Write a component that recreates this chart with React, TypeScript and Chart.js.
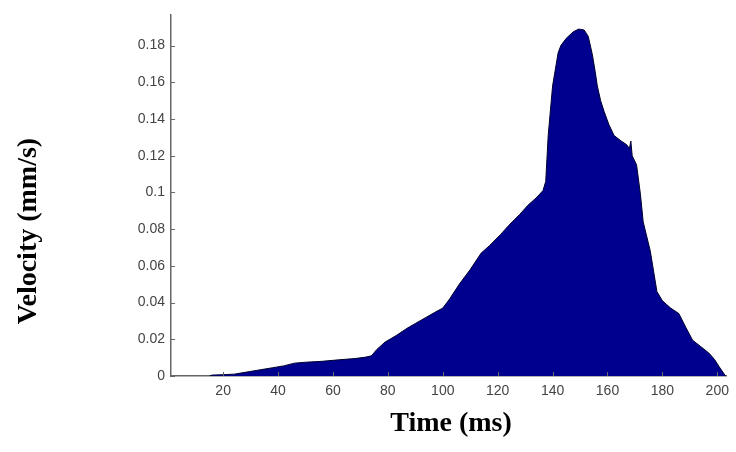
import React, { useEffect, useRef } from "react";
import { Chart, registerables } from "chart.js";

Chart.register(...registerables);

// Time (ms)
const timeMs: number[] = [
  15, 16, 20, 24, 28, 32, 38, 42, 46, 50, 56, 62, 68, 72, 74, 76, 79, 83, 87, 90,
  94, 97, 100, 102.5, 106, 110, 114, 117, 121, 124, 128, 131, 134, 136.5, 137.5,
  138.4, 140, 142, 143, 145, 147.5, 149.5, 151.5, 153, 154.5, 155.5, 156.3, 157.5,
  158.8, 160.5, 162.4, 165, 167, 168, 168.5, 169, 170.6, 172, 173, 175.6, 178,
  180, 183, 186, 188.5, 191, 194, 197, 199, 200.7, 203,
];

// Velocity (mm/s)
const velocity: number[] = [
  0, 0.0005, 0.0007, 0.001, 0.002, 0.003, 0.0045, 0.0055, 0.007, 0.0075, 0.008,
  0.0088, 0.0095, 0.0103, 0.011, 0.0145, 0.0185, 0.022, 0.026, 0.0286, 0.032,
  0.0346, 0.037, 0.042, 0.05, 0.058, 0.067, 0.071, 0.077, 0.082, 0.088, 0.093,
  0.097, 0.101, 0.106, 0.131, 0.158, 0.176, 0.18, 0.184, 0.1875, 0.189, 0.1885,
  0.185, 0.175, 0.166, 0.158, 0.15, 0.144, 0.137, 0.131, 0.128, 0.126, 0.124,
  0.128, 0.12, 0.115, 0.099, 0.084, 0.068, 0.046, 0.041, 0.037, 0.034, 0.0266,
  0.0195, 0.016, 0.0124, 0.009, 0.005, 0,
];

const xTicks: number[] = [20, 40, 60, 80, 100, 120, 140, 160, 180, 200];
const yTicks: number[] = [0, 0.02, 0.04, 0.06, 0.08, 0.1, 0.12, 0.14, 0.16, 0.18];

const xTitle = "Time (ms)";
const yTitle = "Velocity (mm/s)";

const titlesAndTicks = {
  id: "titlesAndTicks",
  afterDraw(chart: any) {
    const ctx = chart.ctx;
    const xs = chart.scales.x;
    const ys = chart.scales.y;
    ctx.save();
    ctx.strokeStyle = "#666";
    ctx.lineWidth = 1;
    ys.ticks.forEach((t: any) => {
      const y = Math.round(ys.getPixelForValue(t.value)) + 0.5;
      ctx.beginPath();
      ctx.moveTo(ys.right, y);
      ctx.lineTo(ys.right + 4, y);
      ctx.stroke();
    });
    xs.ticks.forEach((t: any) => {
      const x = Math.round(xs.getPixelForValue(t.value)) + 0.5;
      ctx.beginPath();
      ctx.moveTo(x, xs.top);
      ctx.lineTo(x, xs.top - 4);
      ctx.stroke();
    });
    ctx.fillStyle = "#000";
    ctx.font = "bold 28px 'Liberation Serif', 'Times New Roman', serif";
    ctx.textAlign = "center";
    ctx.textBaseline = "middle";
    ctx.fillText(xTitle, 451, 424);
    ctx.translate(29, 231);
    ctx.rotate(-Math.PI / 2);
    ctx.fillText(yTitle, 0, 0);
    ctx.restore();
  },
};

export default function App() {
  const ref = useRef<HTMLCanvasElement | null>(null);
  useEffect(() => {
    if (!ref.current) return;
    const points = timeMs.map((t, i) => ({ x: t, y: velocity[i] }));
    const tickFont = { family: "'Liberation Sans', Arial, sans-serif", size: 14 };
    const chart = new Chart(ref.current, {
      type: "line",
      data: {
        datasets: [
          {
            data: points,
            borderColor: "#000030",
            borderWidth: 1,
            backgroundColor: "#00008F",
            fill: "origin",
            pointRadius: 0,
            tension: 0,
          },
        ],
      },
      options: {
        animation: false,
        responsive: false,
        devicePixelRatio: 1,
        layout: { padding: { top: 12, right: 1, left: 0, bottom: 0 } },
        plugins: { legend: { display: false }, tooltip: { enabled: false } },
        scales: {
          x: {
            type: "linear",
            min: 1,
            max: 203.5,
            afterBuildTicks: (s: any) => {
              s.ticks = xTicks.map((v) => ({ value: v }));
            },
            afterFit: (s: any) => {
              s.height = 76;
            },
            grid: { display: true, drawOnChartArea: false, drawTicks: false },
            border: { color: "#666", width: 1.5 },
            ticks: { color: "#444", font: tickFont, padding: 7, maxRotation: 0, autoSkip: false },
          },
          y: {
            type: "linear",
            min: 0,
            max: 0.197,
            afterBuildTicks: (s: any) => {
              s.ticks = yTicks.map((v) => ({ value: v }));
            },
            afterFit: (s: any) => {
              s.width = 171;
            },
            grid: { display: true, drawOnChartArea: false, drawTicks: false },
            border: { color: "#666", width: 1.5 },
            ticks: {
              color: "#444",
              font: tickFont,
              padding: 6,
              autoSkip: false,
              callback: (v: any) => String(Number(Number(v).toFixed(2))),
            },
          },
        },
      },
      plugins: [titlesAndTicks],
    });
    return () => chart.destroy();
  }, []);
  return (
    <div style={{ position: "fixed", left: 0, top: 0, width: 736, height: 452, background: "#fff" }}>
      <canvas ref={ref} width={736} height={452} />
    </div>
  );
}
